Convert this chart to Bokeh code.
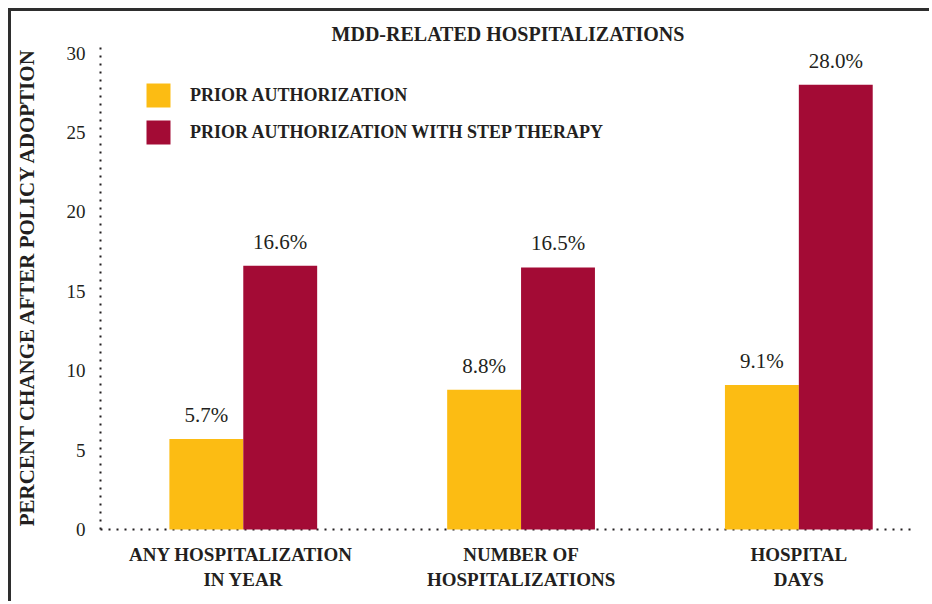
from bokeh.plotting import figure
from bokeh.models import ColumnDataSource, FixedTicker, Legend, LegendItem, Range1d
from bokeh.transform import dodge
from bokeh.core.properties import value
from bokeh.embed import file_html
from bokeh.resources import INLINE

# ---- data ----
categories = ["ANY  HOSPITALIZATION\nIN YEAR", "NUMBER OF\nHOSPITALIZATIONS", "HOSPITAL\nDAYS"]
prior_auth = [5.7, 8.8, 9.1]
prior_auth_step = [16.6, 16.5, 28.0]
y_ticks = [0, 5, 10, 15, 20, 25, 30]
series_names = ["PRIOR AUTHORIZATION", "PRIOR AUTHORIZATION WITH STEP THERAPY"]
title_text = "MDD-RELATED HOSPITALIZATIONS"
y_label = "PERCENT CHANGE AFTER POLICY ADOPTION"

# ---- styles ----
FONT = "Liberation Serif"
INK = "#231f20"
YELLOW = "#fcbc13"
RED = "#a30b35"
BAR_W = 0.266
OFF = 0.133

xs = list(range(len(categories)))
src = ColumnDataSource(dict(
    x=xs,
    pa=prior_auth,
    pas=prior_auth_step,
    pa_lbl=[f"{v:.1f}%" for v in prior_auth],
    pas_lbl=[f"{v:.1f}%" for v in prior_auth_step],
))

p = figure(width=921, height=593, output_backend="svg", toolbar_location=None,
           x_range=Range1d(-0.514, 2.42), y_range=Range1d(0, 30.6),
           min_border_left=88, min_border_right=17, min_border_top=32, min_border_bottom=75,
           styles={"border-top": "3px solid #2e2e2e", "border-left": "3px solid #2e2e2e",
                   "margin-top": "8px", "margin-left": "8px"})

p.background_fill_color = "white"
p.border_fill_color = "white"
p.outline_line_color = None
p.grid.visible = False

# title
p.title.text = title_text
p.title.align = "center"
p.title.text_font = FONT
p.title.text_font_size = "20px"
p.title.text_font_style = "bold"
p.title.text_color = INK
p.title.standoff = -2

r1 = p.vbar(x=dodge("x", -OFF), top="pa", width=BAR_W, source=src,
            fill_color=YELLOW, line_color=None, level="overlay")
r2 = p.vbar(x=dodge("x", OFF), top="pas", width=BAR_W, source=src,
            fill_color=RED, line_color=None, level="overlay")

p.text(x=dodge("x", -OFF), y="pa", text="pa_lbl", source=src,
       text_align="center", text_baseline="bottom", y_offset=-12,
       text_font=value(FONT), text_font_size="21px", text_color=INK)
p.text(x=dodge("x", OFF), y="pas", text="pas_lbl", source=src,
       text_align="center", text_baseline="bottom", y_offset=-12,
       text_font=value(FONT), text_font_size="21px", text_color=INK)

# axes
for ax in (p.xaxis[0], p.yaxis[0]):
    ax.axis_line_color = INK
    ax.axis_line_width = 2
    ax.axis_line_dash = "2 6"
    ax.major_tick_line_color = None
    ax.minor_tick_line_color = None

xa = p.xaxis[0]
xa.ticker = FixedTicker(ticks=xs)
xa.major_label_overrides = {i: c for i, c in zip(xs, categories)}
xa.major_label_text_font = FONT
xa.major_label_text_font_size = "19px"
xa.major_label_text_font_style = "bold"
xa.major_label_text_color = INK
xa.major_label_text_line_height = 1.22
xa.major_label_standoff = 8

ya = p.yaxis[0]
ya.ticker = FixedTicker(ticks=y_ticks)
ya.major_label_text_font = FONT
ya.major_label_text_font_size = "19px"
ya.major_label_text_color = INK
ya.major_label_standoff = 9
ya.axis_label = y_label
ya.axis_label_text_font = FONT
ya.axis_label_text_font_size = "21px"
ya.axis_label_text_font_style = "bold"
ya.axis_label_text_color = INK
ya.axis_label_standoff = 25

legend = Legend(items=[LegendItem(label=series_names[0], renderers=[r1]),
                       LegendItem(label=series_names[1], renderers=[r2])],
                location=(43, 382), glyph_width=30, glyph_height=30,
                label_standoff=17, spacing=7, padding=0, margin=0,
                border_line_color=None, background_fill_alpha=0,
                label_text_font=FONT, label_text_font_size="18px",
                label_text_font_style="bold", label_text_color=INK)
p.add_layout(legend)

open("out.html", "w").write(file_html(p, INLINE))
